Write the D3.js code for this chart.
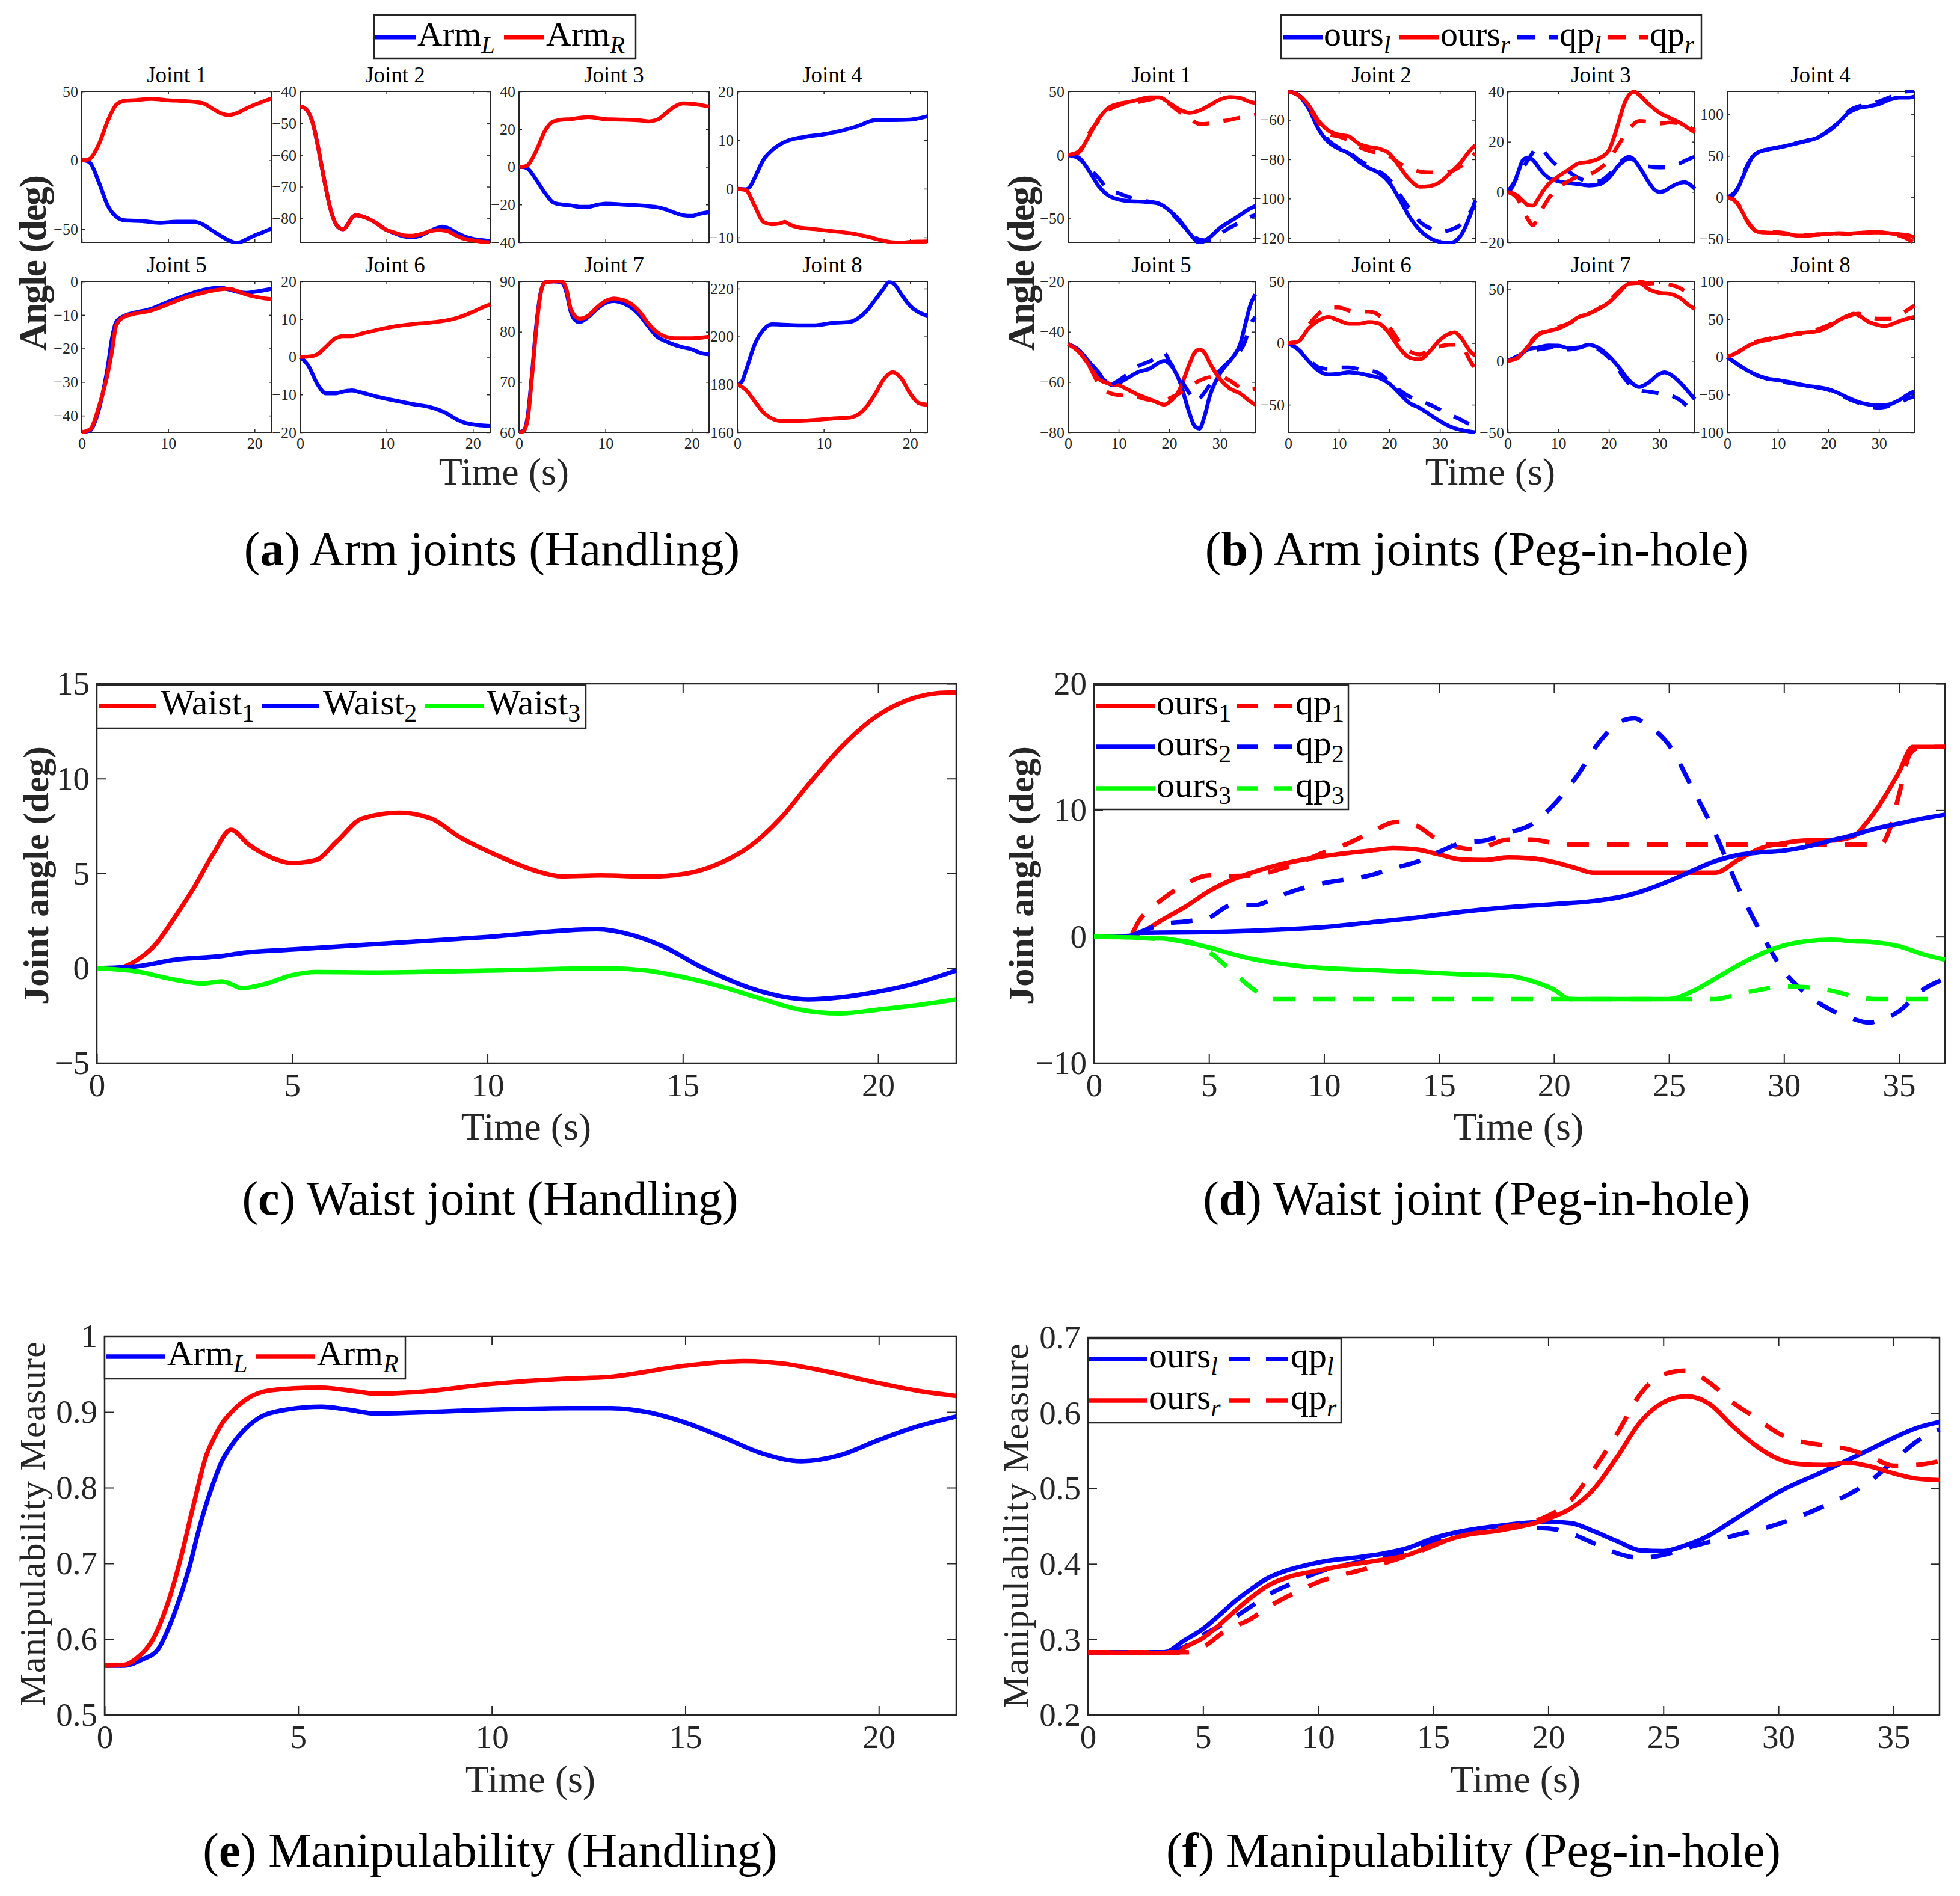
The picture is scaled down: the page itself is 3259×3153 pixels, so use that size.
<!DOCTYPE html>
<html>
<head>
<meta charset="utf-8">
<script src="https://cdn.jsdelivr.net/npm/d3@7"></script>
<style>
  body { margin: 0; background: #fff; }
  text { font-family: "Liberation Serif", serif; }
</style>
</head>
<body>
<svg id="fig" width="3259" height="3153"></svg>
<script>
// ---------------- data: (a) arm joints, handling, [time, deg] ----------------
const handJ1L = [[0,0],[0.5,-0.3],[1,-2.1],[2,-16.3],[3,-32.8],[4,-41],[5,-43.6],[7,-44.1],[9,-45.3],[11,-44.6],[13,-44.6],[14,-46.5],[15,-50.5],[16,-54.5],[17,-58],[18,-59.9],[19,-57.5],[20,-54.5],[21,-52.1],[22,-49.3]];
const handJ1R = [[0,0],[0.5,0.2],[1,1.4],[2,12],[3,28.5],[4,40.3],[5,43.2],[6,43.6],[8,44.6],[10,43.6],[12,42.9],[14,41.5],[15,38],[16,34.4],[17,32.8],[18,34.4],[19,37.5],[20,40.3],[21,42.7],[22,45]];
const handJ2L = [[0,-44.7],[0.5,-45.2],[1,-46.7],[1.5,-50.3],[2,-56.4],[2.5,-63.6],[3,-70.7],[3.5,-76.9],[4,-81],[4.5,-82.9],[5,-83.4],[5.5,-82],[6,-79.8],[6.5,-79],[7,-79.2],[8,-80.2],[9,-81.8],[10,-83.6],[11,-84.7],[12,-85.6],[13,-85.9],[14,-85.3],[15,-84],[16,-82.9],[16.5,-82.6],[17,-82.9],[18,-84.3],[19,-85.6],[20,-86.4],[21,-86.8],[22,-87.1]];
const handJ2R = [[0,-44.7],[0.5,-45.2],[1,-46.7],[1.5,-50.3],[2,-56.4],[2.5,-63.6],[3,-70.7],[3.5,-76.9],[4,-81],[4.5,-82.9],[5,-83.4],[5.5,-82],[6,-79.8],[6.5,-79],[7,-79.2],[8,-80.2],[9,-81.8],[10,-83.6],[11,-84.5],[12,-85.3],[13,-85.4],[14,-84.9],[15,-84],[16,-83.6],[17,-83.9],[18,-85.3],[19,-86.4],[20,-86.9],[21,-87.3],[22,-87.5]];
const handJ3L = [[0,0],[0.5,-0.1],[1,-0.9],[2,-6.9],[3,-13.8],[4,-19],[5,-20],[6,-20.5],[7,-21.2],[8,-21.2],[9,-20.2],[10,-19.5],[12,-20],[14,-20.5],[15,-20.9],[16,-21.4],[17,-22.6],[18,-24.3],[19,-25.7],[20,-26],[21,-24.8],[22,-24]];
const handJ3R = [[0,0],[0.5,0.1],[1,0.9],[2,8.6],[3,19],[4,24.1],[5,25],[6,25.3],[8,26.4],[10,25.3],[12,25],[14,24.6],[15,24.1],[16,25],[17,28.4],[18,31.9],[19,33.6],[20,33.4],[21,32.8],[22,31.9]];
const handJ4L = [[0,0],[1,-0.1],[1.5,0.5],[2,2.2],[3,5.9],[4,7.9],[5,9.2],[6,10],[8,10.7],[10,11.2],[12,11.9],[14,12.9],[16,14.1],[18,14.1],[20,14.2],[22,14.9]];
const handJ4R = [[0,0],[1,-0.3],[2,-3.5],[3,-6.8],[4,-7.3],[5,-7.1],[5.5,-6.8],[6,-7.3],[7,-7.9],[9,-8.3],[11,-8.7],[13,-9.1],[15,-9.8],[17,-10.7],[18,-11],[19,-11.1],[20,-10.9],[22,-10.8]];
const handJ5L = [[0,-45],[1,-44.4],[1.5,-42],[2,-38],[2.5,-32.4],[3,-25.6],[3.5,-16.9],[4,-12],[5,-10.2],[6,-9.4],[8,-8.2],[10,-6.1],[12,-4.2],[14,-2.6],[16,-1.9],[17,-2.4],[18,-3.1],[19,-3.4],[20,-3.1],[22,-2.2]];
const handJ5R = [[0,-45],[1,-44],[2,-37.2],[3,-27.5],[3.5,-20.8],[4,-13],[5,-10.4],[6,-9.7],[8,-8.7],[10,-6.8],[12,-4.8],[14,-3.4],[16,-2.4],[17,-2.2],[18,-2.9],[19,-3.9],[20,-4.5],[21,-5],[22,-5.3]];
const handJ6L = [[0,0],[1,-2.5],[2,-7.2],[3,-9.7],[4,-9.7],[5,-9.2],[6,-8.9],[7,-9.4],[9,-10.6],[11,-11.6],[13,-12.5],[15,-13.3],[16,-14],[17,-15],[18,-16.4],[19,-17.4],[20,-17.9],[22,-18.3]];
const handJ6R = [[0,0],[1,0.1],[2,0.7],[3,2.7],[4,4.8],[5,5.5],[6,5.5],[7,6.1],[9,7.2],[11,8.1],[13,8.7],[15,9.1],[17,9.7],[18,10.2],[19,11],[20,11.9],[21,13],[22,13.9]];
const handJ7L = [[0,60],[0.5,60.3],[1,63.2],[1.5,71.6],[2,81.3],[2.5,87.7],[3,89.8],[4,90],[5,89.7],[5.5,87.7],[6,83.9],[6.5,82.3],[7,81.9],[7.5,82.3],[8,82.9],[9,84.5],[10,85.7],[11,86.1],[12,85.7],[13,84.8],[14,83.2],[15,81],[16,79],[17,78.1],[18,77.4],[19,76.9],[20,76.5],[21,75.8],[22,75.5]];
const handJ7R = [[0,60],[0.5,60.2],[1,62.6],[1.5,71],[2,80.6],[2.5,87.5],[3,89.8],[4,90],[5,90],[5.5,88.4],[6,84.5],[7,82.6],[8,83.2],[9,84.8],[10,86.1],[11,86.6],[12,86.3],[13,85.5],[14,83.9],[15,81.6],[16,79.9],[17,79],[18,78.7],[20,78.7],[22,79]];
const handJ8L = [[0,180],[0.5,181],[1,185.8],[2,196.6],[3,202.7],[4,205.1],[5,205],[7,204.7],[9,204.7],[11,205.7],[13,206.1],[14,207.7],[15,210.8],[16,215.5],[17,220.3],[17.5,222.6],[18,222.3],[19,217.5],[20,212.8],[21,210.1],[22,208.7]];
const handJ8R = [[0,180],[1,177.7],[2,173],[3,168.4],[4,165.8],[5,164.8],[7,164.8],[9,165.2],[11,165.8],[13,166.2],[14,167.5],[15,170.9],[16,176.3],[17,182.4],[18,185.1],[19,182.4],[20,176.3],[21,172.2],[22,171.5]];

const handYLim = [[-59.5,50],[-87.5,-40],[-40,40],[-11,20],[-45,0],[-20,20],[60,90],[160,223]];
const handYTicks = [[-50,0,50],[-80,-70,-60,-50,-40],[-40,-20,0,20,40],[-10,0,10,20],[-40,-30,-20,-10,0],[-20,-10,0,10,20],[60,70,80,90],[160,180,200,220]];
const handXTicks = [0,10,20];

// ---------------- data: (b) arm joints, peg-in-hole ----------------
const pegJ1OursL = [[0,0],[2,-1.8],[4,-11.5],[6,-24.3],[8,-32],[10,-35],[12,-36.3],[14,-36.6],[16,-37.1],[18,-38.4],[20,-43.5],[22,-51.2],[24,-61.4],[26,-69],[28,-64.7],[30,-57.5],[32,-52.4],[34,-47.3],[36,-42.2],[37,-40.2]];
const pegJ1OursR = [[0,0],[2,1.8],[4,14],[6,28.1],[8,37.1],[10,40.2],[12,41.7],[14,43.5],[16,45.3],[18,45.3],[20,40.9],[22,35.8],[24,33.2],[26,35],[28,39.1],[30,43.5],[32,45.5],[34,44.8],[36,41.7],[37,40.9]];
const pegJ1QpL = [[0,0],[2,-2.5],[4,-10.2],[6,-17.9],[8,-27.6],[10,-30.2],[12,-33.2],[14,-35.8],[16,-36.6],[18,-38.4],[20,-44.2],[22,-52.4],[24,-60.6],[26,-66.5],[28,-67.3],[30,-62.2],[32,-57.1],[34,-53],[36,-48.6],[37,-47.3]];
const pegJ1QpR = [[0,0],[2,2.5],[4,16.1],[6,26.9],[8,35.3],[10,39.1],[12,40.2],[14,41.7],[16,43.5],[18,44.8],[20,40.2],[22,34],[24,28.9],[26,24.3],[28,24.8],[30,26.3],[32,27.6],[34,29.4],[36,30.7],[37,31.5]];
const pegJ2OursL = [[0,-45.5],[2,-47.5],[4,-54],[6,-64.7],[8,-71.3],[10,-74.6],[12,-77],[14,-81.2],[16,-84.5],[18,-87],[20,-91.9],[22,-100.2],[24,-109.3],[26,-115.9],[28,-120],[30,-122],[32,-122.5],[34,-119.2],[36,-108.4],[37,-101]];
const pegJ2OursR = [[0,-45.5],[2,-47.3],[4,-52.3],[6,-60.5],[8,-65.5],[10,-67.5],[12,-68.4],[14,-72.1],[16,-73.7],[18,-74.6],[20,-77],[22,-83.7],[24,-90.3],[26,-93.9],[28,-93.6],[30,-91.6],[32,-87],[34,-82],[36,-75.4],[37,-72.9]];
const pegJ2QpL = [[0,-45.5],[2,-47.3],[4,-52.6],[6,-63.1],[8,-70.5],[10,-74.1],[12,-76.3],[14,-80.4],[16,-83.3],[18,-86.2],[20,-90.3],[22,-97.7],[24,-105.1],[26,-111.7],[28,-115],[30,-116.7],[32,-115.9],[34,-113.4],[36,-106.8],[37,-103.5]];
const pegJ2QpR = [[0,-45.5],[2,-47.5],[4,-53.1],[6,-61.4],[8,-67.1],[10,-68.4],[12,-70.4],[14,-73.7],[16,-75.7],[18,-77],[20,-78.4],[22,-82],[24,-84.5],[26,-86.2],[28,-86.7],[30,-86.7],[32,-86.2],[34,-83.7],[36,-79.6],[37,-77]];
const pegJ3OursL = [[0,0],[1,2.3],[2,7.5],[3,12.7],[4,13.7],[5,12.7],[6,10.1],[7,7.5],[8,5.8],[10,4.3],[12,3.6],[14,3.2],[16,2.6],[18,3],[20,5.6],[22,10.7],[24,13.3],[25,12.7],[26,10.1],[28,3.6],[29,1],[30,0],[31,0.4],[32,1.7],[34,3.6],[35,3.9],[36,3],[37,1.3]];
const pegJ3OursR = [[0,0],[1,-0.5],[2,-1.6],[3,-3.5],[4,-5.2],[5,-5.4],[6,-2.8],[7,0.4],[8,3],[10,6.2],[12,8.8],[14,11.4],[16,12],[18,13.3],[20,16.6],[21,21.7],[22,28.2],[23,34.7],[24,38.6],[25,39.9],[26,38.6],[28,34.7],[30,31.5],[32,29.5],[34,27.6],[36,25],[37,23.7]];
const pegJ3QpL = [[0,0],[2,6.2],[4,12.7],[6,17.6],[7,16.6],[8,14],[10,10.1],[12,8.1],[14,5.6],[16,4.3],[18,4.3],[20,6.9],[22,11.4],[24,14],[26,11.4],[28,10.1],[30,9.8],[32,10.1],[34,11.4],[36,13.3],[37,14]];
const pegJ3QpR = [[0,0],[2,-2.8],[3,-6.7],[4,-10.9],[5,-13.2],[6,-10],[7,-6.1],[8,-2.8],[10,1.7],[12,4.3],[14,6.2],[16,6.9],[18,9.1],[20,12.7],[22,19.1],[24,25],[26,28.2],[28,27.9],[30,27.2],[32,27.6],[34,27.2],[36,25.6],[37,24.6]];
const pegJ4OursL = [[0,0],[1,2],[2,9.8],[3,23.5],[4,37.3],[5,49],[6,54.1],[8,57.6],[10,60],[12,62.7],[14,65.5],[16,68.6],[18,72.5],[20,80.4],[22,90.2],[24,102],[26,107.8],[28,109.8],[30,112.5],[32,117.6],[34,120.4],[36,120.4],[37,121.6]];
const pegJ4OursR = [[0,0],[1,-1.2],[2,-7.8],[3,-17.6],[4,-29.4],[5,-37.3],[6,-41.2],[8,-42.4],[10,-43.1],[12,-44.3],[14,-45.9],[16,-45.9],[18,-44.3],[20,-43.9],[22,-43.1],[24,-43.5],[26,-42.7],[28,-42],[30,-42],[32,-43.1],[34,-44.3],[36,-45.9],[37,-48.2]];
const pegJ4QpL = [[0,0],[2,10.5],[4,39.2],[6,54.9],[8,58],[10,60.5],[12,63],[14,66],[16,69],[18,73],[20,79.6],[22,90],[24,103.9],[26,109.8],[28,111.8],[30,115.7],[32,120.4],[34,125.5],[35,127.5],[36,128],[37,128]];
const pegJ4QpR = [[0,0],[2,-6.7],[4,-28.6],[6,-41.2],[8,-42],[10,-42],[12,-43.5],[14,-45.1],[16,-45.5],[18,-45.1],[20,-44.3],[22,-43.5],[24,-43.9],[26,-42.7],[28,-42.4],[30,-42],[32,-43.5],[34,-45.9],[36,-51],[37,-54.9]];
const pegJ5OursL = [[0,-44.9],[2,-47.1],[4,-51.6],[6,-56.8],[8,-60.6],[9,-61.3],[10,-60.4],[12,-58.1],[14,-55.9],[16,-54.8],[18,-52.3],[19,-51.6],[20,-52.6],[22,-59.4],[24,-72.3],[25,-77.4],[26,-78.5],[27,-73.5],[28,-65.8],[30,-56.8],[32,-51.6],[33,-49],[34,-45.2],[35,-37.4],[36,-29.7],[37,-25.2]];
const pegJ5OursR = [[0,-44.9],[2,-47.7],[4,-52.9],[6,-58.7],[8,-60.6],[10,-61.3],[12,-63.2],[14,-65.2],[16,-66.8],[18,-68.4],[19,-69],[20,-68.1],[22,-63.2],[24,-52.9],[25,-48.4],[26,-47.1],[27,-48.4],[28,-52.3],[30,-58.7],[32,-62.6],[34,-64.5],[36,-67.7],[37,-69]];
const pegJ5QpL = [[0,-44.9],[2,-47.1],[4,-51.6],[6,-56.1],[8,-61.3],[10,-59.4],[12,-56.5],[14,-53.5],[16,-51.9],[18,-49.7],[19,-48.4],[20,-51.6],[22,-58.1],[24,-64.5],[25,-67.7],[26,-66.5],[28,-61.3],[30,-55.5],[32,-51.6],[34,-47.7],[35,-43.9],[36,-37.4],[37,-34.2]];
const pegJ5QpR = [[0,-44.9],[2,-47.7],[4,-52.9],[5,-56.8],[6,-60.6],[8,-64.2],[10,-65.2],[12,-65.5],[14,-66.1],[16,-67.1],[18,-67.4],[20,-66.5],[22,-64.5],[24,-61.9],[26,-59.4],[28,-58.1],[30,-57.8],[32,-59.4],[34,-62.2],[36,-63.2],[37,-62.6]];
const pegJ6OursL = [[0,0],[2,-5.3],[4,-14.5],[6,-22.4],[8,-25.5],[10,-25],[12,-23.7],[14,-24.5],[16,-26.3],[18,-28.2],[20,-32.9],[22,-40.8],[24,-48.7],[26,-52.6],[28,-57.9],[30,-63.2],[32,-67.6],[34,-70.3],[36,-71.8],[37,-72.4]];
const pegJ6OursR = [[0,0],[2,1.3],[4,11.8],[6,18.4],[8,21.1],[10,18.4],[12,15.8],[14,15.8],[16,17.1],[18,15.8],[20,7.9],[22,-3.9],[24,-11.8],[26,-13.2],[28,-6.6],[30,2.6],[32,7.9],[33,8.7],[34,5.3],[36,-6.6],[37,-10.5]];
const pegJ6QpL = [[0,0],[2,-5],[4,-13.2],[6,-19.7],[8,-21.1],[10,-19.7],[12,-19.7],[14,-21.1],[16,-22.4],[18,-24.5],[20,-31.6],[22,-38.2],[24,-43.4],[26,-46.6],[28,-50],[30,-53.9],[32,-57.9],[34,-61.8],[36,-65.8],[37,-67.1]];
const pegJ6QpR = [[0,0],[2,1.3],[4,14.5],[6,23.7],[8,28.9],[10,28.9],[12,26.3],[14,25.5],[16,25.5],[18,22.4],[20,13.2],[22,1.3],[24,-6.6],[26,-9.2],[28,-5.3],[30,-2.6],[32,-1.3],[34,-1.3],[36,-14.5],[37,-21.1]];
const pegJ7OursL = [[0,0],[2,3.4],[4,8],[6,9.5],[8,10.9],[10,10.7],[12,9.1],[14,9.5],[16,11.4],[18,9.1],[20,3.4],[22,-4.5],[24,-13.6],[26,-18.2],[28,-14.8],[30,-9.1],[31,-8],[32,-9.1],[34,-14.8],[36,-22.7],[37,-26.8]];
const pegJ7OursR = [[0,0],[2,2.3],[4,10.2],[6,18.2],[8,20.9],[10,22.7],[12,26.1],[14,30.7],[16,33],[18,36.4],[20,40.9],[22,47.7],[24,54.1],[26,54.5],[28,50],[30,47.7],[32,47],[34,44.3],[36,38.6],[37,36.4]];
const pegJ7QpL = [[0,0],[2,3.4],[4,6.8],[6,8],[8,9.1],[10,10.2],[12,8],[14,9.1],[16,10.9],[18,8],[20,2.3],[22,-6.8],[24,-15.9],[26,-20.5],[28,-21.6],[30,-22.7],[32,-23.9],[34,-27.3],[36,-33],[37,-35.2]];
const pegJ7QpR = [[0,0],[2,2.5],[4,11.4],[6,18.6],[8,21.6],[10,23.9],[12,26.1],[14,30],[16,33],[18,36.8],[20,42],[22,48.9],[24,54.5],[26,55.7],[28,54.1],[30,54.5],[32,53.4],[34,51.1],[36,46.6],[37,44.3]];
const pegJ8OursL = [[0,0],[2,-9.4],[4,-18],[6,-24.5],[8,-28.8],[10,-30.9],[12,-33],[14,-36.1],[16,-38.6],[18,-40.3],[20,-42.9],[22,-48.1],[24,-54.5],[26,-60.1],[28,-63.1],[30,-64.4],[32,-63.1],[34,-57.5],[36,-48.9],[37,-45.9]];
const pegJ8OursR = [[0,0],[2,5.6],[4,14.2],[6,19.7],[8,22.7],[10,25.8],[12,28.3],[14,31.3],[16,32.6],[18,34.3],[20,39.9],[22,48.5],[24,54.9],[25,57.1],[26,54.9],[28,46.4],[30,42.1],[31,40.8],[32,42.1],[34,47.2],[36,51.5],[37,52.8]];
const pegJ8QpL = [[0,0],[2,-9.8],[4,-18.9],[8,-29.2],[12,-34.3],[16,-38.6],[20,-43.8],[22,-48.5],[24,-55.8],[26,-60.9],[28,-65.2],[30,-67.4],[32,-65.2],[34,-60.9],[36,-54.5],[37,-52.4]];
const pegJ8QpR = [[0,0],[2,6],[4,15.5],[8,24],[12,29.2],[16,32.6],[18,36.9],[20,42.1],[22,48.5],[24,54.1],[26,57.1],[28,52.8],[30,50.6],[32,50.6],[34,54.9],[36,63.5],[37,67.8]];

const pegYLim = [[-68.7,50],[-122.2,-45.5],[-20,40],[-54.1,127.8],[-80,-20],[-72.4,50],[-50,55.7],[-100,100]];
const pegYTicks = [[-50,0,50],[-120,-100,-80,-60],[-20,0,20,40],[-50,0,50,100],[-80,-60,-40,-20],[-50,0,50],[-50,0,50],[-100,-50,0,50,100]];
const pegXTicks = [0,10,20,30];

// ---------------- data: (c) waist joint, handling ----------------
const waistH1 = [[0,0],[0.5,0],[1,0.4],[1.5,1.25],[2,2.7],[2.5,4.3],[3,6.1],[3.43,7.3],[3.9,6.5],[4.4,5.9],[5,5.55],[5.6,5.7],[6.15,6.7],[6.8,7.9],[7.75,8.2],[8.55,7.9],[9.3,6.9],[10.3,5.9],[11.3,5.1],[11.9,4.85],[12.9,4.9],[14.1,4.83],[15.1,5.0],[15.9,5.5],[16.7,6.4],[17.5,7.9],[18.3,9.9],[19.1,11.75],[19.9,13.2],[20.7,14.1],[21.5,14.5],[22,14.55]];
const waistH2 = [[0,0],[1,0.1],[2,0.45],[3.2,0.65],[3.7,0.8],[5,0.99],[10,1.65],[12.8,2.06],[13.5,1.86],[14.5,1.15],[15.5,0.04],[16.5,-0.87],[17.5,-1.47],[18.2,-1.64],[19,-1.54],[20,-1.23],[21,-0.77],[22,-0.12]];
const waistH3 = [[0,0],[1,-0.16],[2,-0.6],[2.7,-0.8],[3.2,-0.69],[3.4,-0.8],[3.7,-1.05],[4.3,-0.83],[5,-0.36],[5.6,-0.2],[7,-0.22],[10,-0.12],[13,0],[14,-0.1],[15,-0.46],[16,-0.97],[17,-1.6],[18,-2.18],[19,-2.38],[20,-2.18],[21,-1.94],[22,-1.64]];
const waistHYTicks = [-5,0,5,10,15];
const waistHXTicks = [0,5,10,15,20];

// ---------------- data: (d) waist joint, peg-in-hole ----------------
const waistPOurs1 = [[0,0],[1.5,0],[2,0.3],[3,1.36],[4,2.4],[5,3.6],[6,4.5],[7,5.15],[8,5.67],[9,6.06],[10,6.36],[11,6.6],[12,6.8],[13,7.0],[14,6.9],[15,6.5],[16,6.1],[17,6.06],[18,6.27],[19,6.2],[20,5.9],[21,5.4],[21.7,5.06],[27,5.06],[28,6.06],[29,7.0],[30,7.4],[31,7.6],[32,7.6],[33,7.9],[33.5,8.8],[34,10.0],[35,13.0],[35.6,15.0],[37,15.0]];
const waistPQp1 = [[0,0],[1.5,0],[2,1.36],[3,3.0],[4,4.2],[5,4.85],[6,4.8],[7,4.85],[8,5.3],[9,5.9],[10,6.67],[11,7.33],[12,8.2],[13,9.03],[13.5,9.1],[14,8.8],[15,7.6],[16,7.0],[16.5,6.9],[17,7.1],[18,7.67],[19,7.67],[20,7.4],[21,7.27],[34.2,7.27],[34.6,8.5],[35,11.2],[35.5,14.5],[36,15.0],[37,15.0]];
const waistPOurs2 = [[0,0],[1.5,0.05],[2,0.3],[5,0.36],[8,0.55],[10,0.76],[12,1.12],[14,1.5],[16,1.97],[18,2.33],[20,2.58],[22,2.88],[23,3.18],[24,3.7],[25,4.4],[26,5.2],[27,5.97],[28,6.45],[29,6.67],[30,6.8],[31,7.12],[32,7.58],[33,8.03],[34,8.55],[35,8.94],[36,9.33],[37,9.64]];
const waistPQp2 = [[0,0],[1.5,0],[2,0.36],[3,1.0],[4,1.2],[5,1.5],[6,2.5],[7,2.5],[8,3.18],[9,3.8],[10,4.24],[12,4.85],[13,5.4],[14,5.9],[15,6.7],[16,7.4],[17,7.6],[18,8.2],[19,8.85],[20,10.45],[21,12.7],[22,15.45],[23,17.1],[23.5,17.27],[24,16.8],[25,15.15],[26,11.8],[27,8.2],[28,3.94],[29,0.3],[30,-2.73],[31,-4.55],[32,-5.76],[33,-6.5],[33.7,-6.8],[34,-6.7],[35,-5.9],[36,-4.24],[37,-3.33]];
const waistPOurs3 = [[0,0],[3,-0.15],[4,-0.45],[5,-0.85],[6,-1.36],[7,-1.8],[8,-2.1],[9,-2.33],[10,-2.48],[12,-2.64],[14,-2.79],[16,-2.97],[18,-3.09],[19,-3.48],[20,-4.18],[20.7,-4.94],[25,-4.94],[26,-4.33],[27,-3.33],[28,-2.27],[29,-1.36],[30,-0.7],[31,-0.36],[32,-0.24],[33,-0.36],[34,-0.45],[35,-0.76],[36,-1.36],[37,-1.82]];
const waistPQp3 = [[0,0],[4,-0.36],[5,-1.2],[6,-2.73],[7,-4.24],[7.7,-4.94],[27,-4.94],[28,-4.55],[29,-4.18],[30,-3.94],[31,-4.0],[32,-4.24],[33,-4.7],[34,-4.94],[37,-4.94]];
const waistPYTicks = [-10,0,10,20];
const waistPXTicks = [0,5,10,15,20,25,30,35];

// ---------------- data: (e) manipulability, handling ----------------
const manipHL = [[0,0.565],[0.5,0.565],[0.96,0.573],[1.37,0.586],[1.68,0.618],[1.99,0.662],[2.2,0.697],[2.4,0.738],[2.61,0.776],[2.82,0.808],[3.02,0.834],[3.28,0.856],[3.64,0.878],[4.05,0.894],[4.57,0.902],[5.6,0.907],[6.3,0.903],[7,0.898],[10,0.903],[12,0.905],[13,0.905],[14,0.900],[15,0.886],[16,0.866],[17,0.845],[18,0.835],[19,0.843],[20,0.863],[21,0.881],[22,0.894]];
const manipHR = [[0,0.565],[0.5,0.566],[0.85,0.576],[1.27,0.602],[1.58,0.640],[1.83,0.681],[2.04,0.722],[2.22,0.761],[2.4,0.799],[2.61,0.840],[2.82,0.865],[3.02,0.884],[3.28,0.900],[3.64,0.916],[4.05,0.926],[4.57,0.930],[5.6,0.932],[6.5,0.927],[7,0.924],[8,0.926],[10,0.937],[12,0.944],[13,0.946],[15,0.961],[16.5,0.967],[17.5,0.964],[18.5,0.955],[20,0.938],[21,0.928],[22,0.921]];
const manipHYTicks = [0.5,0.6,0.7,0.8,0.9,1];

// ---------------- data: (f) manipulability, peg-in-hole ----------------
const manipPOursL = [[0,0.283],[3.3,0.283],[4.2,0.299],[5,0.314],[5.7,0.332],[6.4,0.351],[7.1,0.367],[7.8,0.381],[8.6,0.391],[9.45,0.398],[10.4,0.404],[11.5,0.408],[12.7,0.413],[13.9,0.421],[15,0.434],[16.2,0.443],[18,0.451],[20,0.456],[21,0.454],[22,0.443],[23,0.43],[24,0.418],[25,0.417],[26,0.425],[27,0.438],[28,0.457],[30,0.495],[32,0.523],[34,0.552],[35,0.567],[36,0.58],[37,0.588]];
const manipPQpL = [[0,0.283],[3.5,0.283],[4.3,0.292],[5,0.306],[6,0.322],[7,0.342],[8,0.362],[9,0.376],[10,0.389],[12,0.404],[14,0.417],[16,0.44],[18,0.449],[20,0.447],[21,0.44],[22,0.427],[23,0.414],[24,0.408],[25,0.412],[26,0.421],[28,0.437],[30,0.453],[32,0.477],[34,0.51],[35,0.536],[36,0.562],[37,0.578]];
const manipPOursR = [[0,0.283],[3.9,0.282],[4.2,0.289],[5,0.302],[5.7,0.319],[6.4,0.338],[7.1,0.356],[7.8,0.371],[8.75,0.383],[9.8,0.39],[11,0.397],[12.7,0.405],[13.9,0.412],[15,0.425],[16.2,0.437],[18,0.445],[20,0.46],[21,0.474],[22,0.50],[23,0.542],[24,0.588],[25,0.614],[26,0.622],[27,0.612],[28,0.583],[29,0.557],[30,0.539],[31,0.532],[32,0.531],[33,0.534],[34,0.529],[35,0.52],[36,0.513],[37,0.511]];
const manipPQpR = [[0,0.283],[4.3,0.283],[5,0.29],[6,0.312],[7,0.326],[8,0.346],[9,0.362],[10,0.376],[12,0.393],[14,0.412],[16,0.435],[18,0.448],[20,0.464],[21,0.485],[22,0.526],[23,0.573],[24,0.625],[25,0.651],[26,0.656],[27,0.64],[28,0.614],[29,0.594],[30,0.573],[31,0.562],[32,0.557],[33,0.552],[34,0.542],[35,0.53],[36,0.531],[37,0.536]];
const manipPYTicks = [0.2,0.3,0.4,0.5,0.6,0.7];

// ---------------- drawing ----------------
const RED = '#ff0000', BLUE = '#0000ff', GREEN = '#00ff00', AX = '#262626';
const svg = d3.select('#fig');
svg.append('rect').attr('width', 3259).attr('height', 3153).attr('fill', '#fff');
let clipCount = 0;
const tickFmt = d3.format('~g');

// one MATLAB-style axes: box, inward ticks on all four sides, clipped lines
function drawAxes(p) {
    const g = svg.append('g').attr('transform', `translate(${p.x},${p.y})`);
    const xs = d3.scaleLinear().domain(p.xDom).range([0, p.w]);
    const ys = d3.scaleLinear().domain(p.yDom).range([p.h, 0]);

    const styleAxis = a => {
        a.select('.domain').remove();
        a.attr('font-size', p.fs).attr('font-family', '"Liberation Serif", serif').style('color', AX);
        a.selectAll('line').attr('stroke-width', p.tickW);
    };
    g.append('g').attr('transform', `translate(0,${p.h})`)
        .call(d3.axisBottom(xs).tickValues(p.xTicks).tickSize(-p.tick).tickPadding(p.xPad)
            .tickFormat(p.showX ? tickFmt : ''))
        .call(styleAxis);
    g.append('g')
        .call(d3.axisTop(xs).tickValues(p.xTicks).tickSize(-p.tick).tickFormat(''))
        .call(styleAxis);
    g.append('g')
        .call(d3.axisLeft(ys).tickValues(p.yTicks).tickSize(-p.tick).tickPadding(p.yPad).tickFormat(tickFmt))
        .call(styleAxis);
    g.append('g').attr('transform', `translate(${p.w},0)`)
        .call(d3.axisRight(ys).tickValues(p.yTicks).tickSize(-p.tick).tickFormat(''))
        .call(styleAxis);
    g.append('rect').attr('width', p.w).attr('height', p.h)
        .attr('fill', 'none').attr('stroke', AX).attr('stroke-width', p.boxW);

    const id = 'clip' + (clipCount++);
    g.append('clipPath').attr('id', id).append('rect')
        .attr('x', -3).attr('y', -3).attr('width', p.w + 6).attr('height', p.h + 6);
    const line = d3.line().x(d => xs(d[0])).y(d => ys(d[1])).curve(d3.curveMonotoneX);
    p.series.forEach(s => {
        g.append('path').attr('clip-path', `url(#${id})`)
            .attr('d', line(s.data))
            .attr('fill', 'none').attr('stroke', s.color)
            .attr('stroke-width', p.lw)
            .attr('stroke-linejoin', 'round')
            .attr('stroke-dasharray', s.dash ? p.dash : null);
    });
    return g;
}

// text with a subscript, e.g. Arm_L
function subText(sel, base, sub, italic, fs) {
    sel.append('tspan').text(base);
    sel.append('tspan').attr('font-size', fs * 0.7).attr('dy', fs * 0.2)
        .attr('font-style', italic ? 'italic' : null).text(sub);
}

// legend box with items placed at given offsets
function drawLegend(L) {
    const g = svg.append('g').attr('transform', `translate(${L.x},${L.y})`);
    g.append('rect').attr('width', L.w).attr('height', L.h)
        .attr('fill', '#fff').attr('stroke', AX).attr('stroke-width', 2.5);
    L.items.forEach(it => {
        g.append('line').attr('x1', it.x0).attr('x2', it.x1).attr('y1', it.y).attr('y2', it.y)
            .attr('stroke', it.color).attr('stroke-width', L.lw)
            .attr('stroke-dasharray', it.dash ? L.dash : null);
        const t = g.append('text').attr('x', it.tx).attr('y', it.y + L.fs * 0.24)
            .attr('font-size', L.fs).attr('fill', '#000');
        subText(t, it.base, it.sub, it.italic, L.fs);
    });
}

function yLabel(cx, cy, txt, fs, len, bold) {
    svg.append('text').attr('transform', `translate(${cx},${cy}) rotate(-90)`)
        .attr('text-anchor', 'middle').attr('dominant-baseline', 'central')
        .attr('font-size', fs).attr('font-weight', bold ? 'bold' : null)
        .attr('textLength', len).attr('lengthAdjust', 'spacing')
        .attr('fill', AX).text(txt);
}

function xLabel(cx, y, txt, fs) {
    svg.append('text').attr('x', cx).attr('y', y).attr('text-anchor', 'middle')
        .attr('font-size', fs).attr('fill', AX).text(txt);
}

function caption(cx, y, letter, rest) {
    const t = svg.append('text').attr('x', cx).attr('y', y).attr('text-anchor', 'middle')
        .attr('font-size', 80).attr('fill', '#000');
    t.append('tspan').text('(');
    t.append('tspan').attr('font-weight', 'bold').text(letter);
    t.append('tspan').text(') ' + rest);
}

// ----- (a) and (b): 2 x 4 grids of small axes -----
const handData = [[handJ1L, handJ1R], [handJ2L, handJ2R], [handJ3L, handJ3R], [handJ4L, handJ4R],
                  [handJ5L, handJ5R], [handJ6L, handJ6R], [handJ7L, handJ7R], [handJ8L, handJ8R]];
const pegData = [[pegJ1OursL, pegJ1OursR, pegJ1QpL, pegJ1QpR], [pegJ2OursL, pegJ2OursR, pegJ2QpL, pegJ2QpR],
                 [pegJ3OursL, pegJ3OursR, pegJ3QpL, pegJ3QpR], [pegJ4OursL, pegJ4OursR, pegJ4QpL, pegJ4QpR],
                 [pegJ5OursL, pegJ5OursR, pegJ5QpL, pegJ5QpR], [pegJ6OursL, pegJ6OursR, pegJ6QpL, pegJ6QpR],
                 [pegJ7OursL, pegJ7OursR, pegJ7QpL, pegJ7QpR], [pegJ8OursL, pegJ8OursR, pegJ8QpL, pegJ8QpR]];
const handCols = [136, 499, 863, 1226], pegCols = [1776, 2142, 2507, 2872];
const gridRows = [152, 468], subH = 251;

for (let j = 0; j < 8; j++) {
    const r = Math.floor(j / 4), c = j % 4;
    const small = { y: gridRows[r], h: subH, tick: 5, tickW: 1.5, boxW: 2, fs: 26, xPad: 9, yPad: 6,
                    lw: 6.5, dash: '28,24', showX: r === 1 };
    drawAxes(Object.assign({}, small, {
        x: handCols[c], w: 316, xDom: [0, 22], yDom: handYLim[j],
        xTicks: handXTicks, yTicks: handYTicks[j],
        series: [{ data: handData[j][0], color: BLUE }, { data: handData[j][1], color: RED }]
    }));
    drawAxes(Object.assign({}, small, {
        x: pegCols[c], w: 311, xDom: [0, 37], yDom: pegYLim[j],
        xTicks: pegXTicks, yTicks: pegYTicks[j],
        series: [{ data: pegData[j][0], color: BLUE }, { data: pegData[j][1], color: RED },
                 { data: pegData[j][2], color: BLUE, dash: true }, { data: pegData[j][3], color: RED, dash: true }]
    }));
    svg.append('text').attr('x', handCols[c] + 158).attr('y', gridRows[r] - 15)
        .attr('text-anchor', 'middle').attr('font-size', 37).attr('fill', '#000').text('Joint ' + (j + 1));
    svg.append('text').attr('x', pegCols[c] + 155).attr('y', gridRows[r] - 15)
        .attr('text-anchor', 'middle').attr('font-size', 37).attr('fill', '#000').text('Joint ' + (j + 1));
}

drawLegend({ x: 622, y: 25, w: 435, h: 72, fs: 58, lw: 7, dash: '30,22', items: [
    { x0: 2, x1: 69, tx: 72, y: 37, color: BLUE, base: 'Arm', sub: 'L', italic: true },
    { x0: 216, x1: 283, tx: 286, y: 37, color: RED, base: 'Arm', sub: 'R', italic: true }
]});
drawLegend({ x: 2130, y: 25, w: 699, h: 72, fs: 58, lw: 7, dash: '30,22', items: [
    { x0: 3, x1: 69, tx: 71, y: 37, color: BLUE, base: 'ours', sub: 'l', italic: true },
    { x0: 197, x1: 263, tx: 265, y: 37, color: RED, base: 'ours', sub: 'r', italic: true },
    { x0: 393, x1: 460, tx: 463, y: 37, color: BLUE, dash: true, base: 'qp', sub: 'l', italic: true },
    { x0: 543, x1: 611, tx: 613, y: 37, color: RED, dash: true, base: 'qp', sub: 'r', italic: true }
]});

yLabel(54, 437, 'Angle (deg)', 64, 292, true);
yLabel(1697, 437, 'Angle (deg)', 64, 292, true);
xLabel(838, 806, 'Time (s)', 64);
xLabel(2478, 806, 'Time (s)', 64);
caption(818, 940, 'a', 'Arm joints (Handling)');
caption(2456, 940, 'b', 'Arm joints (Peg-in-hole)');

// ----- (c) and (d): waist joints -----
const big = { tick: 15, tickW: 2, boxW: 2.5, fs: 55, xPad: 16, yPad: 12, lw: 7.5, dash: '36,30', showX: true };
drawAxes(Object.assign({}, big, {
    x: 161, y: 1137, w: 1429, h: 631, xDom: [0, 22], yDom: [-5, 15],
    xTicks: waistHXTicks, yTicks: waistHYTicks,
    series: [{ data: waistH1, color: RED }, { data: waistH2, color: BLUE }, { data: waistH3, color: GREEN }]
}));
drawAxes(Object.assign({}, big, {
    x: 1819, y: 1137, w: 1415, h: 631, xDom: [0, 37], yDom: [-10, 20],
    xTicks: waistPXTicks, yTicks: waistPYTicks,
    series: [{ data: waistPOurs1, color: RED }, { data: waistPQp1, color: RED, dash: true },
             { data: waistPOurs2, color: BLUE }, { data: waistPQp2, color: BLUE, dash: true },
             { data: waistPOurs3, color: GREEN }, { data: waistPQp3, color: GREEN, dash: true }]
}));
drawLegend({ x: 161, y: 1139, w: 813, h: 72, fs: 60, lw: 7.5, dash: '36,26', items: [
    { x0: 3, x1: 99, tx: 106, y: 35, color: RED, base: 'Waist', sub: '1' },
    { x0: 275, x1: 370, tx: 376, y: 35, color: BLUE, base: 'Waist', sub: '2' },
    { x0: 545, x1: 643, tx: 648, y: 35, color: GREEN, base: 'Waist', sub: '3' }
]});
drawLegend({ x: 1819, y: 1139, w: 423, h: 207, fs: 60, lw: 7.5, dash: '36,26', items: [
    { x0: 3, x1: 102, tx: 104, y: 35, color: RED, base: 'ours', sub: '1' },
    { x0: 237, x1: 330, tx: 335, y: 35, color: RED, dash: true, base: 'qp', sub: '1' },
    { x0: 3, x1: 102, tx: 104, y: 103, color: BLUE, base: 'ours', sub: '2' },
    { x0: 237, x1: 330, tx: 335, y: 103, color: BLUE, dash: true, base: 'qp', sub: '2' },
    { x0: 3, x1: 102, tx: 104, y: 172, color: GREEN, base: 'ours', sub: '3' },
    { x0: 237, x1: 330, tx: 335, y: 172, color: GREEN, dash: true, base: 'qp', sub: '3' }
]});
yLabel(60, 1456, 'Joint angle (deg)', 60, 430, true);
yLabel(1698, 1456, 'Joint angle (deg)', 60, 430, true);
xLabel(875, 1895, 'Time (s)', 64);
xLabel(2525, 1895, 'Time (s)', 64);
caption(815, 2020, 'c', 'Waist joint (Handling)');
caption(2455, 2020, 'd', 'Waist joint (Peg-in-hole)');

// ----- (e) and (f): manipulability -----
drawAxes(Object.assign({}, big, {
    x: 174, y: 2222, w: 1416, h: 630, xDom: [0, 22], yDom: [0.5, 1],
    xTicks: waistHXTicks, yTicks: manipHYTicks,
    series: [{ data: manipHL, color: BLUE }, { data: manipHR, color: RED }]
}));
drawAxes(Object.assign({}, big, {
    x: 1809, y: 2224, w: 1416, h: 628, xDom: [0, 37], yDom: [0.2, 0.7],
    xTicks: waistPXTicks, yTicks: manipPYTicks,
    series: [{ data: manipPOursL, color: BLUE }, { data: manipPQpL, color: BLUE, dash: true },
             { data: manipPOursR, color: RED }, { data: manipPQpR, color: RED, dash: true }]
}));
drawLegend({ x: 174, y: 2223, w: 500, h: 70, fs: 60, lw: 7.5, dash: '36,26', items: [
    { x0: 2, x1: 101, tx: 104, y: 33, color: BLUE, base: 'Arm', sub: 'L', italic: true },
    { x0: 252, x1: 350, tx: 353, y: 33, color: RED, base: 'Arm', sub: 'R', italic: true }
]});
drawLegend({ x: 1809, y: 2226, w: 421, h: 140, fs: 60, lw: 7.5, dash: '36,26', items: [
    { x0: 2, x1: 99, tx: 101, y: 34, color: BLUE, base: 'ours', sub: 'l', italic: true },
    { x0: 234, x1: 335, tx: 337, y: 34, color: BLUE, dash: true, base: 'qp', sub: 'l', italic: true },
    { x0: 2, x1: 99, tx: 101, y: 103, color: RED, base: 'ours', sub: 'r', italic: true },
    { x0: 234, x1: 335, tx: 337, y: 103, color: RED, dash: true, base: 'qp', sub: 'r', italic: true }
]});
yLabel(54, 2534, 'Manipulability Measure', 60, 606, false);
yLabel(1689, 2537, 'Manipulability Measure', 60, 606, false);
xLabel(882, 2980, 'Time (s)', 64);
xLabel(2520, 2980, 'Time (s)', 64);
caption(815, 3104, 'e', 'Manipulability (Handling)');
caption(2450, 3104, 'f', 'Manipulability (Peg-in-hole)');
</script>
</body>
</html>
